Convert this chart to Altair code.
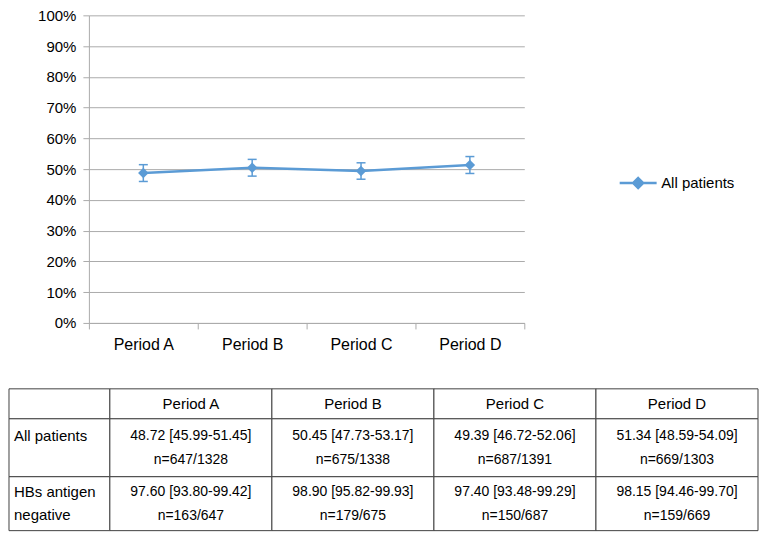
import json
import altair as alt
import pandas as pd

# ---- data ----
periods = ["Period A", "Period B", "Period C", "Period D"]
all_pts = [48.72, 50.45, 49.39, 51.34]
all_lo = [45.99, 47.73, 46.72, 48.59]
all_hi = [51.45, 53.17, 52.06, 54.09]
all_n = ["n=647/1328", "n=675/1338", "n=687/1391", "n=669/1303"]
hbs = [97.60, 98.90, 97.40, 98.15]
hbs_lo = [93.80, 95.82, 93.48, 94.46]
hbs_hi = [99.42, 99.93, 99.29, 99.70]
hbs_n = ["n=163/647", "n=179/675", "n=150/687", "n=159/669"]
row_labels = ["All patients", "HBs antigen\nnegative"]
series_name = "All patients"
y_ticks = list(range(0, 101, 10))

FONT = "Liberation Sans"
BLUE = "#5B9BD5"
GRID = "#ABABAB"
BORDER = "#404040"

n = len(periods)
PLOT_W, PLOT_H = 436, 308
band = PLOT_W / n

df = pd.DataFrame({
    "period": periods,
    "pos": [i + 0.5 for i in range(n)],
    "value": all_pts,
    "lo": all_lo,
    "hi": all_hi,
    "series": [series_name] * n,
})

label_expr = f"datum.value < {n} ? {json.dumps(periods)}[datum.value] : ''"

xs = alt.Scale(domain=[0, n], nice=False, zero=False)
ys = alt.Scale(domain=[0, 100], nice=False, zero=True)
x_axis = alt.Axis(values=list(range(n + 1)), labelExpr=label_expr,
                  labelOffset=band / 2, labelFlush=False, labelOverlap=False,
                  grid=False, title=None, tickSize=6, labelPadding=8,
                  labelFontSize=16, domainColor=GRID, tickColor=GRID,
                  labelColor="#000000")
y_axis = alt.Axis(values=y_ticks, labelExpr="datum.value + '%'", title=None,
                  tickSize=6, labelPadding=7, labelFontSize=15, labelOverlap=False,
                  gridColor=GRID, domainColor=GRID, tickColor=GRID,
                  labelColor="#000000")


def X():
    return alt.X("pos:Q", scale=xs, axis=x_axis)


def Y(field):
    return alt.Y(f"{field}:Q", scale=ys, axis=y_axis)


base = alt.Chart(df)
line = base.mark_line(color=BLUE, strokeWidth=2.5).encode(x=X(), y=Y("value"))
rules = base.mark_rule(color=BLUE, strokeWidth=1.5).encode(x=X(), y=Y("lo"), y2="hi:Q")
cap_lo = base.mark_tick(orient="horizontal", size=9, thickness=1.5, color=BLUE, opacity=1).encode(x=X(), y=Y("lo"))
cap_hi = base.mark_tick(orient="horizontal", size=9, thickness=1.5, color=BLUE, opacity=1).encode(x=X(), y=Y("hi"))
legend_path = "M-1,0H1M0,-0.27L0.27,0L0,0.27L-0.27,0Z"
points = base.mark_point(shape="diamond", filled=True, size=110, opacity=1).encode(
    x=X(), y=Y("value"),
    color=alt.Color("series:N", scale=alt.Scale(domain=[series_name], range=[BLUE]),
                    legend=alt.Legend(title=None, orient="none", legendX=530, legendY=148,
                                      symbolType=legend_path, symbolSize=1369,
                                      symbolStrokeColor=BLUE, symbolFillColor=BLUE,
                                      symbolStrokeWidth=2.5, labelFontSize=15,
                                      labelOffset=3, labelFont=FONT, labelColor="#000000",
                                      padding=0)),
)

top = alt.layer(line, rules, cap_lo, cap_hi, points).properties(width=PLOT_W, height=PLOT_H)

# ---- table ----
cells = []
for r in range(3):
    for c in range(n + 1):
        cells.append({"c0": c, "c1": c + 1, "r0": r, "r1": r + 1})
cells_df = pd.DataFrame(cells)

header_df = pd.DataFrame({"cx": [j + 1.5 for j in range(n)], "ry": [0.5] * n, "text": periods})
body = []
for j in range(n):
    body.append({"cx": j + 1.5, "ry": 1.5,
                 "text": f"{all_pts[j]:.2f} [{all_lo[j]:.2f}-{all_hi[j]:.2f}]\n{all_n[j]}"})
    body.append({"cx": j + 1.5, "ry": 2.5,
                 "text": f"{hbs[j]:.2f} [{hbs_lo[j]:.2f}-{hbs_hi[j]:.2f}]\n{hbs_n[j]}"})
body_df = pd.DataFrame(body)
rowlab_df = pd.DataFrame({"cx": [0, 0], "ry": [1.5, 2.5], "text": row_labels})

# table extends to the left of the plot origin (under the y-axis labels)
TW, TH = 670, 142
tx = alt.Scale(domain=[0, 1, n + 1], range=[-80, 21, TW], nice=False, zero=False)
ty = alt.Scale(domain=[0, 1, 2, 3], range=[0, 30, 88, TH], nice=False, zero=False)

rects = alt.Chart(cells_df).mark_rect(fill="white", stroke=BORDER, strokeWidth=1).encode(
    x=alt.X("c0:Q", scale=tx, axis=None), x2="c1:Q",
    y=alt.Y("r0:Q", scale=ty, axis=None), y2="r1:Q")
htext = alt.Chart(header_df).mark_text(fontSize=15, baseline="middle", align="center", color="#000000").encode(
    x=alt.X("cx:Q", scale=tx, axis=None), y=alt.Y("ry:Q", scale=ty, axis=None), text="text:N")
btext = alt.Chart(body_df).mark_text(fontSize=14, baseline="middle", align="center", dy=-12,
                                      lineBreak="\n", lineHeight=24, color="#000000").encode(
    x=alt.X("cx:Q", scale=tx, axis=None), y=alt.Y("ry:Q", scale=ty, axis=None), text="text:N")
ltext = alt.Chart(rowlab_df).mark_text(fontSize=15, baseline="middle", align="left", dx=5, dy=-12,
                                       lineBreak="\n", lineHeight=23, color="#000000").encode(
    x=alt.X("cx:Q", scale=tx, axis=None), y=alt.Y("ry:Q", scale=ty, axis=None), text="text:N")

table = alt.layer(rects, htext, btext, ltext).properties(width=TW, height=TH)

chart = alt.vconcat(top, table, spacing=35).properties(
    padding={"left": 0, "top": 0, "right": 0, "bottom": 0}, background="white"
).configure_view(stroke=None).configure_axis(labelFont=FONT).configure_text(font=FONT)

chart.save("out.html", embed_options={"renderer": "svg", "actions": False})
